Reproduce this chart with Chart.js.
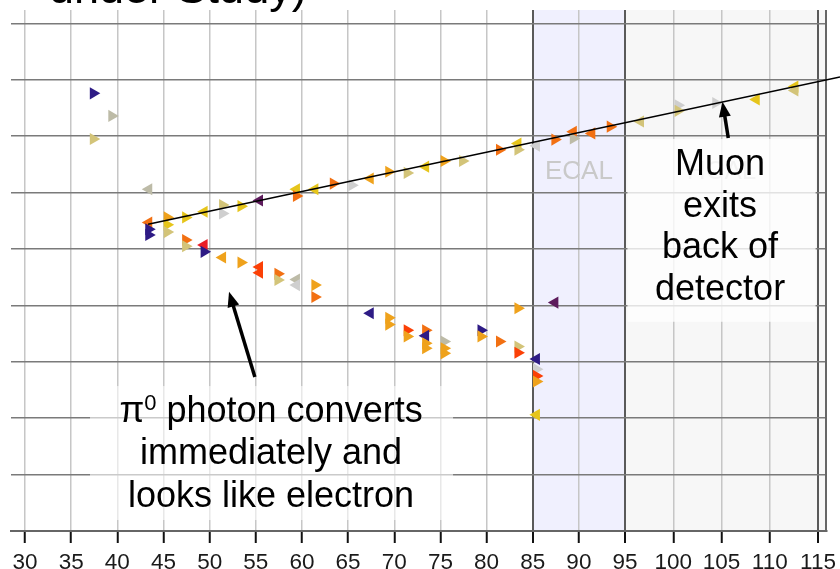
<!DOCTYPE html>
<html>
<head>
<meta charset="utf-8">
<title>Event display</title>
<script src="https://cdn.jsdelivr.net/npm/chart.js@4.4.1/dist/chart.umd.min.js"></script>
<style>
  html, body { margin: 0; padding: 0; background: #fff; }
  #wrap { width: 840px; height: 569px; }
</style>
</head>
<body>
<div id="wrap"><canvas id="event" width="840" height="569"></canvas></div>
<script>
// Beam-axis tick labels
const tickLabels = [30, 35, 40, 45, 50, 55, 60, 65, 70, 75, 80, 85, 90, 95, 100, 105, 110, 115];

// Reconstructed muon track (two end points)
const muonX = [43.33, 117.28];
const muonY = [5.44, 8.05];

// Detector hits: position, drift side (R / L) and charge level 0..9
const hitX = [
  37.4, 39.4, 37.4, 43.4, 43.4, 43.4, 43.4, 45.4, 45.4, 45.4,
  47.4, 49.4, 51.4, 51.4, 53.4, 55.4, 59.4, 59.4, 61.4, 63.4,
  65.4, 67.4, 69.4, 71.4, 73.4, 75.4, 77.4, 81.4, 83.4, 83.4,
  85.4, 87.4, 89.4, 89.4, 91.4, 93.4, 96.6, 100.5, 100.5, 104.4,
  108.6, 112.6, 112.6,
  47.4, 47.4, 49.4, 49.4, 51.4, 53.4, 55.4, 55.4, 57.4, 57.4,
  59.4, 59.4, 61.4, 61.4,
  67.4, 69.4, 69.4, 71.4, 71.4, 73.4, 73.4, 73.4, 73.4, 75.4,
  75.4, 75.4, 79.4, 79.4, 81.4, 83.4, 83.4, 83.4, 87.4, 85.4,
  85.4, 85.4, 85.4, 85.4
];
const hitY = [
  7.76, 7.36, 6.95, 6.06, 5.47, 5.35, 5.25, 5.56, 5.43, 5.30,
  5.56, 5.66, 5.78, 5.63, 5.76, 5.86, 6.06, 5.94, 6.06, 6.16,
  6.13, 6.25, 6.37, 6.35, 6.46, 6.56, 6.56, 6.76, 6.87, 6.76,
  6.83, 6.94, 7.08, 6.96, 7.05, 7.17, 7.26, 7.55, 7.45, 7.59,
  7.65, 7.88, 7.81,
  5.16, 5.05, 5.07, 4.95, 4.85, 4.76, 4.68, 4.58, 4.56, 4.45,
  4.46, 4.36, 4.36, 4.15,
  3.86, 3.78, 3.66, 3.56, 3.45, 3.56, 3.46, 3.33, 3.24, 3.36,
  3.24, 3.15, 3.56, 3.45, 3.36, 3.27, 3.16, 3.95, 4.05, 3.05,
  2.87, 2.75, 2.65, 2.06
];
const hitDir = [
  'R','R','R','L','L','R','R','R','R','R',
  'R','L','R','R','R','L','L','R','L','R',
  'R','L','R','R','L','R','R','R','L','R',
  'L','R','L','R','L','R','L','R','R','R',
  'L','L','L',
  'R','R','L','R','L','R','L','L','R','R',
  'L','L','R','R',
  'L','R','R','R','R','R','L','R','R','R',
  'R','R','R','R','R','R','R','R','L','L',
  'R','R','R','L'
];
const hitLevel = [
  9, 1, 2, 1, 5, 9, 9, 4, 3, 2,
  3, 3, 2, 0, 3, 8, 3, 5, 3, 5,
  0, 4, 4, 2, 3, 4, 2, 5, 3, 2,
  0, 5, 5, 1, 5, 5, 2, 0, 2, 0,
  3, 3, 2,
  5, 2, 7, 9, 4, 4, 6, 6, 5, 2,
  1, 0, 4, 5,
  9, 4, 4, 6, 4, 5, 9, 4, 4, 1,
  4, 4, 9, 4, 5, 2, 6, 4, 8, 9,
  0, 6, 4, 3
];

// Charge colour scale, lowest to highest level
const levelColors = [
  '#cfcfcf', '#bdbba7', '#d3c479', '#e6c51b', '#efa21c',
  '#f27012', '#fb4006', '#ea1d26', '#5d1b5c', '#2e1b85'
];

// The back section (beyond 95) is laid out slightly wider than the front
const BACK_START = 95;
const BACK_STRETCH = 1.0454;
function warp(v) { return v <= BACK_START ? v : BACK_START + (v - BACK_START) * BACK_STRETCH; }
function unwarp(w) { return w <= BACK_START ? w : BACK_START + (w - BACK_START) / BACK_STRETCH; }

const FONT = '"Liberation Sans", Arial, sans-serif';
const boundaries = [85, 95, 115];

const hitPoints = hitX.map((x, i) => ({ x: warp(x), y: hitY[i] }));
const muonPoints = muonX.map((x, i) => ({ x: warp(x), y: muonY[i] }));

const detectorPlugin = {
  id: 'detector',
  beforeDraw(chart) {
    const { ctx, chartArea: a, scales: { x } } = chart;
    const px = v => x.getPixelForValue(warp(v));
    ctx.save();
    ctx.fillStyle = '#ffffff';
    ctx.fillRect(0, 0, chart.width, chart.height);
    // ECAL region
    ctx.fillStyle = '#f0f0fe';
    ctx.fillRect(px(85), a.top, px(95) - px(85), a.bottom - a.top);
    // back region
    ctx.fillStyle = '#f7f7f7';
    ctx.fillRect(px(95), a.top, a.right - px(95), a.bottom - a.top);
    ctx.restore();
  },
  beforeDatasetsDraw(chart) {
    const { ctx, chartArea: a, scales: { x, y } } = chart;
    const px = v => x.getPixelForValue(warp(v));
    const py = v => y.getPixelForValue(v);
    ctx.save();
    ctx.font = '26px ' + FONT;
    ctx.fillStyle = '#c9c9c9';
    ctx.textAlign = 'center';
    ctx.textBaseline = 'alphabetic';
    ctx.fillText('ECAL', px(90), py(6.235));
    ctx.fillText('HCAL', px(105), py(6.235));

    // text backdrops
    ctx.fillStyle = 'rgba(255,255,255,0.78)';
    ctx.fillRect(px(95.25), py(6.95), px(114.75) - px(95.25), py(3.71) - py(6.95));
    ctx.fillStyle = 'rgba(255,255,255,0.6)';
    ctx.fillRect(px(37.04), py(2.57), px(76.37) - px(37.04), py(0.195) - py(2.57));

    // right edge of the detector
    ctx.strokeStyle = '#666';
    ctx.lineWidth = 2;
    ctx.beginPath();
    ctx.moveTo(a.right - 1, a.top);
    ctx.lineTo(a.right - 1, a.bottom);
    ctx.stroke();
    ctx.restore();
  },
  afterDatasetsDraw(chart) {
    const { ctx, scales: { x, y } } = chart;
    const px = v => x.getPixelForValue(warp(v));
    const py = v => y.getPixelForValue(v);

    function arrow(x0, y0, x1, y1) {
      const X0 = px(x0), Y0 = py(y0), X1 = px(x1), Y1 = py(y1);
      const ang = Math.atan2(Y1 - Y0, X1 - X0);
      const head = 15, half = 6;
      const bx = X1 - Math.cos(ang) * head, by = Y1 - Math.sin(ang) * head;
      ctx.strokeStyle = '#000';
      ctx.lineWidth = 3.5;
      ctx.beginPath();
      ctx.moveTo(X0, Y0);
      ctx.lineTo(bx + Math.cos(ang) * 2, by + Math.sin(ang) * 2);
      ctx.stroke();
      ctx.fillStyle = '#000';
      ctx.beginPath();
      ctx.moveTo(X1, Y1);
      ctx.lineTo(bx - Math.sin(ang) * half, by + Math.cos(ang) * half);
      ctx.lineTo(bx + Math.sin(ang) * half, by - Math.cos(ang) * half);
      ctx.closePath();
      ctx.fill();
    }

    ctx.save();
    arrow(105.7, 6.97, 105.1, 7.61);
    arrow(54.9, 2.73, 52.1, 4.24);

    ctx.fillStyle = '#000';
    ctx.font = '36px ' + FONT;
    ctx.textAlign = 'center';
    ctx.textBaseline = 'alphabetic';
    const muonLines = ['Muon', 'exits', 'back of', 'detector'];
    const muonBase = [6.31, 5.57, 4.84, 4.10];
    muonLines.forEach((t, i) => ctx.fillText(t, px(104.85), py(muonBase[i])));

    const cx = px(56.65);
    // first line with a raised zero after pi
    const big = '36px ' + FONT, small = '22px ' + FONT;
    ctx.font = big;
    const wPi = ctx.measureText('π').width;
    const wRest = ctx.measureText(' photon converts').width;
    ctx.font = small;
    const wZero = ctx.measureText('0').width;
    const total = wPi + wZero + wRest;
    let sx = cx - total / 2;
    const b1 = py(1.94);
    ctx.textAlign = 'left';
    ctx.font = big;
    ctx.fillText('π', sx, b1);
    sx += wPi;
    ctx.font = small;
    ctx.fillText('0', sx, b1 - 12);
    sx += wZero;
    ctx.font = big;
    ctx.fillText(' photon converts', sx, b1);
    ctx.textAlign = 'center';
    ctx.fillText('immediately and', cx, py(1.18));
    ctx.fillText('looks like electron', cx, py(0.43));
    ctx.restore();
  },
  afterDraw(chart) {
    const { ctx } = chart;
    ctx.save();
    ctx.fillStyle = '#000';
    ctx.font = '45px ' + FONT;
    ctx.textAlign = 'left';
    ctx.textBaseline = 'alphabetic';
    ctx.fillText('under Study)', 49, 3);
    ctx.restore();
  }
};

new Chart(document.getElementById('event'), {
  type: 'scatter',
  data: {
    datasets: [
      {
        type: 'line',
        data: muonPoints,
        borderColor: '#000',
        borderWidth: 1.6,
        pointRadius: 0,
        fill: false,
        clip: false,
        order: 0
      },
      {
        data: hitPoints,
        pointStyle: 'triangle',
        pointRadius: 7,
        pointHoverRadius: 7,
        pointRotation: ctx => (hitDir[ctx.dataIndex] === 'R' ? 90 : -90),
        backgroundColor: hitLevel.map(l => levelColors[l]),
        borderWidth: 0,
        order: 1
      }
    ]
  },
  options: {
    responsive: false,
    animation: false,
    devicePixelRatio: 1,
    layout: { padding: { left: 11, right: 13, top: 10, bottom: 0 } },
    plugins: {
      legend: { display: false },
      tooltip: { enabled: false },
      title: { display: false }
    },
    events: [],
    scales: {
      x: {
        type: 'linear',
        min: warp(28.48),
        max: warp(115.93),
        afterBuildTicks: scale => { scale.ticks = tickLabels.map(v => ({ value: warp(v) })); },
        afterFit: scale => {
          scale.height = 38;
          scale.paddingLeft = 0;
          scale.paddingRight = 0;
        },
        ticks: {
          callback: v => String(Math.round(unwarp(v))),
          font: { family: FONT, size: 22.5 },
          color: '#1a1a1a',
          padding: 6,
          maxRotation: 0,
          autoSkip: false
        },
        grid: {
          color: ctx => (ctx.tick && boundaries.includes(Math.round(unwarp(ctx.tick.value))) ? '#5a5a5a' : '#c6c6c6'),
          lineWidth: ctx => (ctx.tick && boundaries.includes(Math.round(unwarp(ctx.tick.value))) ? 2 : 1.5),
          tickColor: '#111',
          tickWidth: 2,
          tickLength: 12
        },
        border: { color: '#666', width: 2 }
      },
      y: {
        type: 'linear',
        min: 0,
        max: 9.238,
        afterBuildTicks: scale => { scale.ticks = [0, 1, 2, 3, 4, 5, 6, 7, 8, 9].map(v => ({ value: v })); },
        afterFit: scale => { scale.width = 0; },
        ticks: { display: false },
        grid: { color: '#7a7a7a', lineWidth: 1.5, drawTicks: false },
        border: { display: false }
      }
    }
  },
  plugins: [detectorPlugin]
});
</script>
</body>
</html>
